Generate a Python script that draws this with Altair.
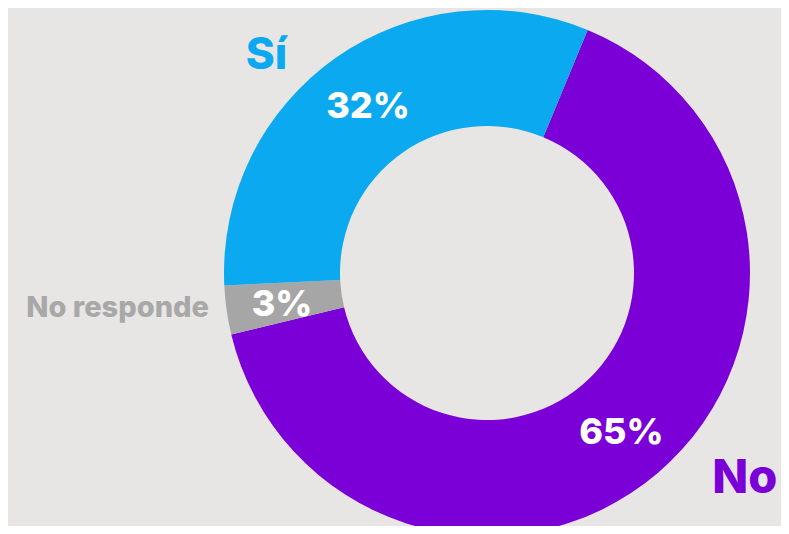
import math
import altair as alt
import pandas as pd

# Data
categories = ["No", "No responde", "Sí"]
values = [65, 3, 32]
labels = ["65%", "3%", "32%"]
order_idx = [0, 1, 2]
colors = ["#7b00d8", "#a6a6a6", "#0ba9ef"]

df = pd.DataFrame({"cat": categories, "val": values, "lab": labels, "ord": order_idx})

BG = "#e8e6e5"
CX, CY = 479, 265
R_OUT, R_IN = 263, 147
START = math.radians(22.5)
FONT = "Inter"
W = 800

theta_scale = alt.Scale(domain=[0, 100], range=[START, START + 2 * math.pi])
theta = alt.Theta("val:Q", stack=True, scale=theta_scale)
color = alt.Color("cat:N", scale=alt.Scale(domain=categories, range=colors), legend=None)
order = alt.Order("ord:Q")

base = alt.Chart(df)

arcs = base.mark_arc(radius=R_OUT, radius2=R_IN, stroke=None).encode(
    theta=theta, color=color, order=order,
    x=alt.value(CX), y=alt.value(CY),
)

pct = base.mark_text(radius=207, font=FONT, fontWeight=W, fontSize=36,
                     color="white", baseline="middle", align="center", dy=3).encode(
    theta=theta, order=order, text="lab:N",
    x=alt.value(CX), y=alt.value(CY),
)


def cat_label(name, col, size, align, dx, dy):
    return base.transform_window(
        cum="sum(val)", sort=[alt.SortField("ord")]
    ).transform_calculate(
        mid="datum.cum - datum.val / 2"
    ).transform_filter(alt.datum.cat == name).mark_text(
        radius=300, font=FONT, fontWeight=W, fontSize=size, color=col,
        baseline="alphabetic", align=align, dx=dx, dy=dy,
    ).encode(
        theta=alt.Theta("mid:Q", scale=theta_scale),
        text="cat:N", x=alt.value(CX), y=alt.value(CY),
    )


lab_si = cat_label("Sí", "#0ba9ef", 44, "center", -48, 41)
lab_no = cat_label("No", "#7b00d8", 47, "center", 63, -8)
lab_nr = cat_label("No responde", "#a8a8a8", 29, "right", 19, 2)

chart = alt.layer(arcs, pct, lab_si, lab_no, lab_nr).resolve_scale(theta="independent").properties(
    width=773, height=518, autosize=alt.AutoSizeParams(type="none"), padding=0,
    background=BG,
).configure_view(stroke=None)

chart.save("out.html", embed_options={"renderer": "svg", "actions": False})
